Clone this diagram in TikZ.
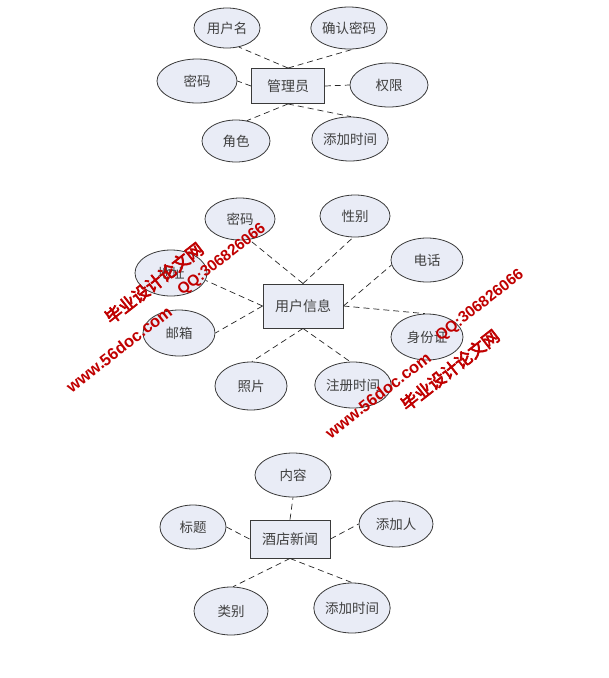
\documentclass[tikz,border=0pt]{standalone}
\usepackage{fontspec}
\usetikzlibrary{shapes.geometric}
\newfontfamily\cjk{Noto Sans CJK SC}
\newfontfamily\wmcjk[FakeBold=4]{Noto Sans CJK SC}
\newfontfamily\wmlat{Liberation Sans}
\definecolor{fillc}{HTML}{E9ECF6}
\definecolor{edgec}{HTML}{3A3A3A}
\definecolor{wmred}{HTML}{C00000}
\tikzset{
  attr/.style={ellipse, draw=edgec, fill=fillc, line width=0.8pt, inner sep=0pt,
    font=\cjk\fontsize{13.5}{15}\selectfont, text=black!75},
  ent/.style={rectangle, draw=edgec, fill=fillc, line width=0.9pt, inner sep=0pt,
    font=\cjk\fontsize{14}{16}\selectfont, text=black!75},
  link/.style={draw=black!85, line width=0.7pt, dash pattern=on 6pt off 4pt},
  wm/.style={text=wmred, rotate=38, inner sep=0pt}
}
\begin{document}
\begin{tikzpicture}[x=1pt,y=-1pt]
\path[use as bounding box, fill=white] (0,0) rectangle (609,678);

% ---------- group 1 ----------
\node[ent, minimum width=73pt, minimum height=35pt] (g1) at (288,86) {管理员};
\node[attr, minimum width=66pt, minimum height=40pt] (g1a) at (227,28) {用户名};
\node[attr, minimum width=68pt, minimum height=42pt] (g1b) at (349,28) {确认密码};
\node[attr, minimum width=80pt, minimum height=44pt] (g1c) at (197,81) {密码};
\node[attr, minimum width=78pt, minimum height=44pt] (g1d) at (389,85) {权限};
\node[attr, minimum width=68pt, minimum height=42pt] (g1e) at (236,141) {角色};
\node[attr, minimum width=70pt, minimum height=44pt] (g1f) at (350,139) {添加时间};
\draw[link] (g1.north) -- (g1a.-58);
\draw[link] (g1.north) -- (g1b.-80);
\draw[link] (g1.west) -- (g1c.east);
\draw[link] (g1.east) -- (g1d.west);
\draw[link] (g1.south) -- (g1e.62);
\draw[link] (g1.south) -- (g1f.88);

% ---------- group 2 ----------
\node[ent, minimum width=80pt, minimum height=44pt] (g2) at (303,306) {用户信息};
\node[attr, minimum width=70pt, minimum height=42pt] (g2a) at (240,219) {密码};
\node[attr, minimum width=70pt, minimum height=42pt] (g2b) at (355,216) {性别};
\node[attr, minimum width=72pt, minimum height=44pt] (g2c) at (427,260) {电话};
\node[attr, minimum width=72pt, minimum height=46pt] (g2d) at (171,273) {地址};
\node[attr, minimum width=72pt, minimum height=46pt] (g2e) at (179,333) {邮箱};
\node[attr, minimum width=72pt, minimum height=46pt] (g2f) at (427,337) {身份证};
\node[attr, minimum width=72pt, minimum height=48pt] (g2g) at (251,386) {照片};
\node[attr, minimum width=70pt, minimum height=46pt] (g2h) at (353,385) {注册时间};
\draw[link] (g2.north) -- (g2a.-66);
\draw[link] (g2.north) -- (g2b.-95);
\draw[link] (g2.east) -- (g2c.188);
\draw[link] (g2.west) -- (g2d.-12);
\draw[link] (g2.west) -- (g2e.east);
\draw[link] (g2.east) -- (g2f.95);
\draw[link] (g2.south) -- (g2g.88);
\draw[link] (g2.south) -- (g2h.97);

% ---------- group 3 ----------
\node[ent, minimum width=80pt, minimum height=38pt] (g3) at (290,539) {酒店新闻};
\node[attr, minimum width=76pt, minimum height=44pt] (g3a) at (293,475) {内容};
\node[attr, minimum width=66pt, minimum height=44pt] (g3b) at (193,527) {标题};
\node[attr, minimum width=74pt, minimum height=46pt] (g3c) at (396,524) {添加人};
\node[attr, minimum width=74pt, minimum height=48pt] (g3d) at (231,611) {类别};
\node[attr, minimum width=74pt, minimum height=50pt] (g3e) at (352,608) {添加时间};
\draw[link] (g3.north) -- (g3a.south);
\draw[link] (g3.west) -- (g3b.east);
\draw[link] (g3.east) -- (g3c.west);
\draw[link] (g3.south) -- (g3d.85);
\draw[link] (g3.south) -- (g3e.90);

% ---------- watermark ----------
\node[wm, font=\wmcjk\fontsize{17}{18}\selectfont] (w1) at (154,283) {毕业设计论文网};
\node[wm, font=\wmlat\bfseries\fontsize{15.5}{17}\selectfont] (w2) at (222,260) {QQ:306826066};
\node[wm, font=\wmlat\bfseries\fontsize{16.5}{18}\selectfont] (w3) at (119,349) {www.56doc.com};
\node[wm, font=\wmcjk\fontsize{17}{18}\selectfont] (w4) at (450,370) {毕业设计论文网};
\node[wm, font=\wmlat\bfseries\fontsize{15.5}{17}\selectfont] (w5) at (480,306) {QQ:306826066};
\node[wm, font=\wmlat\bfseries\fontsize{16.5}{18}\selectfont] (w6) at (378,395) {www.56doc.com};
\end{tikzpicture}
\end{document}
